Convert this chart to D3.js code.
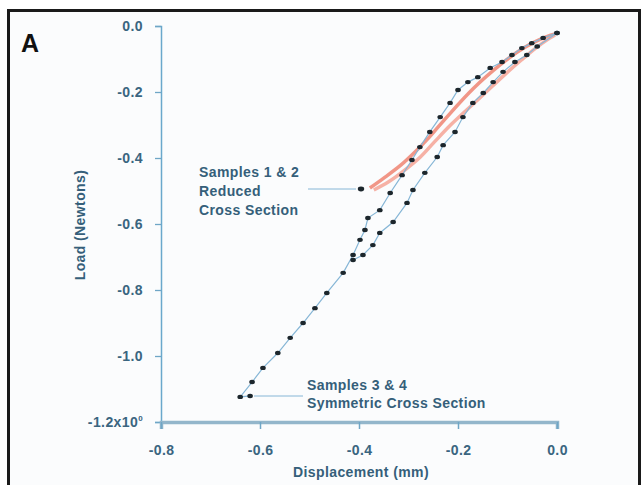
<!DOCTYPE html>
<html><head>
<meta charset="utf-8">
<script src="https://d3js.org/d3.v7.min.js"></script>
<style>
  body { margin: 0; background: #fff; }
  text { font-family: "Liberation Sans", Arial, sans-serif; }
  .tick text { font-size: 14px; font-weight: bold; fill: #3a6580; letter-spacing: 0.4px; }
  .tick line { stroke: #6fa6c6; }
  .note { font-size: 14px; font-weight: bold; fill: #355f7a; letter-spacing: 0.4px; }
</style>
</head>
<body>
<svg id="chart" width="643" height="485"></svg>
<script>
// data (displacement mm, load N)
const xTicks = [-0.8, -0.6, -0.4, -0.2, 0.0];
const yTicks = [0.0, -0.2, -0.4, -0.6, -0.8, -1.0, -1.2];

// samples 3 & 4, symmetric cross section (dotted traces)
const sym3x = [0, -0.028, -0.051, -0.071, -0.091, -0.111, -0.135, -0.160, -0.180, -0.200, -0.216, -0.236, -0.257, -0.277, -0.293, -0.313, -0.337, -0.358, -0.382, -0.388, -0.398, -0.412, -0.432, -0.465, -0.489, -0.513, -0.539, -0.564, -0.594, -0.616, -0.640, -0.620];
const sym3y = [-0.021, -0.036, -0.052, -0.067, -0.088, -0.109, -0.127, -0.155, -0.170, -0.194, -0.233, -0.276, -0.321, -0.367, -0.406, -0.452, -0.506, -0.558, -0.582, -0.618, -0.648, -0.694, -0.748, -0.809, -0.855, -0.900, -0.945, -0.991, -1.036, -1.079, -1.124, -1.121];
const sym4x = [0, -0.040, -0.061, -0.085, -0.109, -0.129, -0.149, -0.170, -0.190, -0.206, -0.230, -0.242, -0.267, -0.291, -0.303, -0.331, -0.358, -0.372, -0.392, -0.412];
const sym4y = [-0.021, -0.062, -0.088, -0.109, -0.139, -0.170, -0.203, -0.233, -0.276, -0.321, -0.361, -0.397, -0.445, -0.497, -0.536, -0.594, -0.627, -0.664, -0.694, -0.709];

// samples 1 & 2, reduced cross section (red traces)
const red1x = [-0.378, -0.350, -0.315, -0.289, -0.263, -0.228, -0.168, -0.115, -0.080, -0.050, -0.022, -0.004];
const red1y = [-0.491, -0.461, -0.421, -0.385, -0.345, -0.285, -0.188, -0.118, -0.079, -0.052, -0.033, -0.024];
const red2x = [-0.370, -0.341, -0.307, -0.276, -0.248, -0.215, -0.156, -0.106, -0.072, -0.043, -0.017, -0.004];
const red2y = [-0.497, -0.473, -0.436, -0.397, -0.352, -0.300, -0.218, -0.148, -0.103, -0.067, -0.039, -0.027];

const svg = d3.select("#chart");

// frame
svg.append("rect").attr("x", 8.5).attr("y", 10.5).attr("width", 631).attr("height", 490)
   .attr("fill", "#fbfcfd").attr("stroke", "#1a1a1a").attr("stroke-width", 3);

svg.append("text").attr("x", 21).attr("y", 52).text("A")
   .style("font-size", "25px").style("font-weight", "bold").attr("fill", "#111");

const x = d3.scaleLinear().domain([-0.8, 0]).range([161, 557]);
const y = d3.scaleLinear().domain([-1.2, 0]).range([422, 26]);

// axes
const yAxis = svg.append("g").attr("transform", "translate(161,0)")
  .call(d3.axisLeft(y).tickValues(yTicks).tickSize(6).tickPadding(12)
        .tickFormat(d => d === -1.2 ? "" : d3.format(".1f")(d).replace("−", "-")));
yAxis.select(".domain").attr("stroke", "#6aa8cc").attr("stroke-width", 1.5);
yAxis.selectAll(".tick line").attr("stroke-width", 1.3);
const lastTick = yAxis.selectAll(".tick").filter(d => d === -1.2).select("text");
lastTick.append("tspan").text("-1.2x10");
lastTick.append("tspan").text("0").attr("dy", -6).style("font-size", "8px");

const xAxis = svg.append("g").attr("transform", "translate(0,422)")
  .call(d3.axisBottom(x).tickValues(xTicks).tickSize(7).tickPadding(16)
        .tickFormat(d => d3.format(".1f")(d).replace("−", "-")));
xAxis.select(".domain").attr("stroke", "#93b6cb").attr("stroke-width", 3.5);
xAxis.selectAll(".tick line").attr("stroke-width", 1.5);

svg.append("text").attr("x", 361).attr("y", 477).attr("text-anchor", "middle")
   .text("Displacement (mm)").attr("class", "note");
svg.append("text").attr("transform", "translate(85,225) rotate(-90)").attr("text-anchor", "middle")
   .text("Load (Newtons)").attr("class", "note");

// red traces
const line = d3.line().x(d => x(d[0])).y(d => y(d[1])).curve(d3.curveCatmullRom);
[[red1x, red1y, "#ee8472"], [red2x, red2y, "#f5a395"]].forEach(([xs, ys, c]) => {
  svg.append("path").datum(xs.map((v, i) => [v, ys[i]])).attr("d", line)
     .attr("fill", "none").attr("stroke", c).attr("stroke-width", 3.5).attr("opacity", 0.85);
});

// dotted black traces
[[sym3x, sym3y], [sym4x, sym4y]].forEach(([xs, ys]) => {
  const pts = xs.map((v, i) => [v, ys[i]]);
  svg.append("path").datum(pts).attr("d", d3.line().x(d => x(d[0])).y(d => y(d[1])))
     .attr("fill", "none").attr("stroke", "#86b6d6").attr("stroke-width", 1.2);
  svg.append("g").selectAll("ellipse").data(pts).join("ellipse")
     .attr("cx", d => x(d[0])).attr("cy", d => y(d[1]))
     .attr("rx", 2.8).attr("ry", 2.2).attr("fill", "#1c262c");
});

// annotations
svg.append("line").attr("x1", 308).attr("x2", 356).attr("y1", 189).attr("y2", 189)
   .attr("stroke", "#86b6d6").attr("stroke-width", 1);
svg.append("ellipse").attr("cx", 361).attr("cy", 189).attr("rx", 3.2).attr("ry", 2.4).attr("fill", "#1c262c");
["Samples 1 & 2", "Reduced", "Cross Section"].forEach((t, i) => {
  svg.append("text").attr("class", "note").attr("x", 199).attr("y", 177 + i * 19).text(t);
});
svg.append("line").attr("x1", 254).attr("x2", 303).attr("y1", 396).attr("y2", 396)
   .attr("stroke", "#86b6d6").attr("stroke-width", 1);
["Samples 3 & 4", "Symmetric Cross Section"].forEach((t, i) => {
  svg.append("text").attr("class", "note").attr("x", 307).attr("y", 390 + i * 18).text(t);
});
</script>
</body>
</html>
